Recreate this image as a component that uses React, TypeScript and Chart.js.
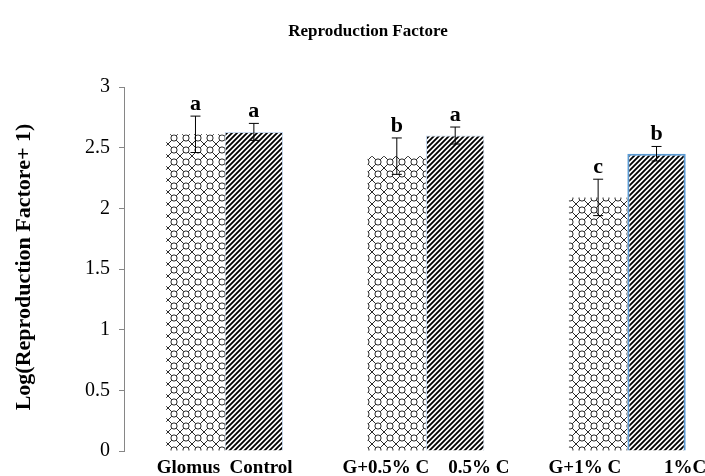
import React, { useEffect, useRef } from "react";
import { Chart, registerables } from "chart.js";

Chart.register(...registerables);

const categories = ["Glomus  Control", "G+0.5% C    0.5% C", "G+1% C         1%C"];
const glomusValues = [2.61, 2.43, 2.09];
const glomusErrors = [0.15, 0.15, 0.15];
const glomusLetters = ["a", "b", "c"];
const controlValues = [2.63, 2.6, 2.45];
const controlErrors = [0.07, 0.07, 0.06];
const controlLetters = ["a", "a", "b"];
const chartTitle = "Reproduction Factore";
const yAxisTitle = "Log(Reproduction Factore+ 1)";

const SERIF = "'Liberation Serif', 'Times New Roman', serif";

function makeLatticePattern(): CanvasPattern | string {
  const c = document.createElement("canvas");
  const s = 12;
  c.width = s;
  c.height = s;
  const g = c.getContext("2d");
  if (!g) return "#fff";
  g.fillStyle = "#ffffff";
  g.fillRect(0, 0, s, s);
  g.strokeStyle = "#2a2a2a";
  g.lineWidth = 1;
  const r = 3.1;
  g.beginPath();
  g.arc(6, 6, r, 0, Math.PI * 2);
  g.stroke();
  const d = 6 - r * 0.7071;
  g.beginPath();
  g.moveTo(0, 0); g.lineTo(d, d);
  g.moveTo(s, 0); g.lineTo(s - d, d);
  g.moveTo(0, s); g.lineTo(d, s - d);
  g.moveTo(s, s); g.lineTo(s - d, s - d);
  g.stroke();
  const p = g.createPattern(c, "repeat");
  return p || "#fff";
}

function makeStripePattern(): CanvasPattern | string {
  const c = document.createElement("canvas");
  const s = 5;
  c.width = s;
  c.height = s;
  const g = c.getContext("2d");
  if (!g) return "#000";
  g.fillStyle = "#ffffff";
  g.fillRect(0, 0, s, s);
  g.strokeStyle = "#000000";
  g.lineWidth = 1.8;
  g.beginPath();
  g.moveTo(-1, s + 1); g.lineTo(s + 1, -1);
  g.moveTo(-1, 1); g.lineTo(1, -1);
  g.moveTo(s - 1, s + 1); g.lineTo(s + 1, s - 1);
  g.stroke();
  const p = g.createPattern(c, "repeat");
  return p || "#000";
}

const overlayPlugin = {
  id: "overlay",
  afterDatasetsDraw(chart: any) {
    const ctx = chart.ctx as CanvasRenderingContext2D;
    const y = chart.scales.y;
    const sets = [
      { vals: glomusValues, errs: glomusErrors, letters: glomusLetters },
      { vals: controlValues, errs: controlErrors, letters: controlLetters },
    ];
    ctx.save();
    sets.forEach((set, i) => {
      const meta = chart.getDatasetMeta(i);
      meta.data.forEach((bar: any, j: number) => {
        const x = bar.x;
        const top = y.getPixelForValue(set.vals[j] + set.errs[j]);
        const bot = y.getPixelForValue(set.vals[j] - set.errs[j]);
        ctx.strokeStyle = "#000";
        ctx.lineWidth = 1;
        ctx.beginPath();
        ctx.moveTo(x, top);
        ctx.lineTo(x, bot);
        ctx.moveTo(x - 5, top);
        ctx.lineTo(x + 5, top);
        ctx.moveTo(x - 5, bot);
        ctx.lineTo(x + 5, bot);
        ctx.stroke();
        ctx.fillStyle = "#000";
        ctx.font = `bold 22px ${SERIF}`;
        ctx.textAlign = "center";
        ctx.textBaseline = "bottom";
        ctx.fillText(set.letters[j], x, top - 1);
      });
    });
    ctx.restore();
  },
  afterDraw(chart: any) {
    const ctx = chart.ctx as CanvasRenderingContext2D;
    ctx.save();
    ctx.fillStyle = "#000";
    ctx.font = `bold 17px ${SERIF}`;
    ctx.textAlign = "center";
    ctx.textBaseline = "middle";
    ctx.fillText(chartTitle, 368, 32);
    ctx.translate(24, 267);
    ctx.rotate(-Math.PI / 2);
    ctx.font = `bold 22px ${SERIF}`;
    ctx.fillText(yAxisTitle, 0, 0);
    ctx.restore();
  },
};

export default function App() {
  const ref = useRef<HTMLCanvasElement | null>(null);
  useEffect(() => {
    if (!ref.current) return;
    const lattice = makeLatticePattern();
    const stripes = makeStripePattern();
    const chart = new Chart(ref.current, {
      type: "bar",
      data: {
        labels: categories,
        datasets: [
          {
            label: "Glomus",
            data: glomusValues,
            backgroundColor: lattice as any,
            borderWidth: 0,
            categoryPercentage: 0.58,
            barPercentage: 1,
          },
          {
            label: "Control",
            data: controlValues,
            backgroundColor: stripes as any,
            borderColor: ["#c6d9f0", "#c6d9f0", "#5b9bd5"],
            borderWidth: [1, 1, 2],
            categoryPercentage: 0.58,
            barPercentage: 1,
          },
        ],
      },
      options: {
        animation: false,
        responsive: true,
        maintainAspectRatio: false,
        layout: { padding: { top: 87, right: 2, bottom: 0, left: 0 } },
        plugins: {
          legend: { display: false },
          title: { display: false },
          tooltip: { enabled: false },
        },
        scales: {
          x: {
            grid: { display: false, drawTicks: false },
            border: { display: false },
            ticks: {
              color: "#000",
              font: { family: SERIF, size: 19, weight: "bold" },
              padding: 6,
              maxRotation: 0,
              autoSkip: false,
            },
            afterFit: (s: any) => { s.height = 25; },
          },
          y: {
            min: 0,
            max: 3,
            ticks: {
              stepSize: 0.5,
              color: "#000",
              font: { family: SERIF, size: 20 },
              padding: 9,
              callback: (v: any) => String(v),
            },
            grid: {
              drawOnChartArea: false,
              drawTicks: true,
              tickLength: 5,
              color: "#868686",
            },
            border: { display: true, color: "#868686" },
            afterFit: (s: any) => { s.width = 124; },
          },
        },
      },
      plugins: [overlayPlugin],
    });
    return () => chart.destroy();
  }, []);
  return (
    <div style={{ position: "fixed", left: 0, top: 0, width: 705, height: 476, overflow: "hidden", background: "#fff" }}>
      <div style={{ position: "relative", width: 730, height: 476 }}>
        <canvas ref={ref} />
      </div>
    </div>
  );
}
